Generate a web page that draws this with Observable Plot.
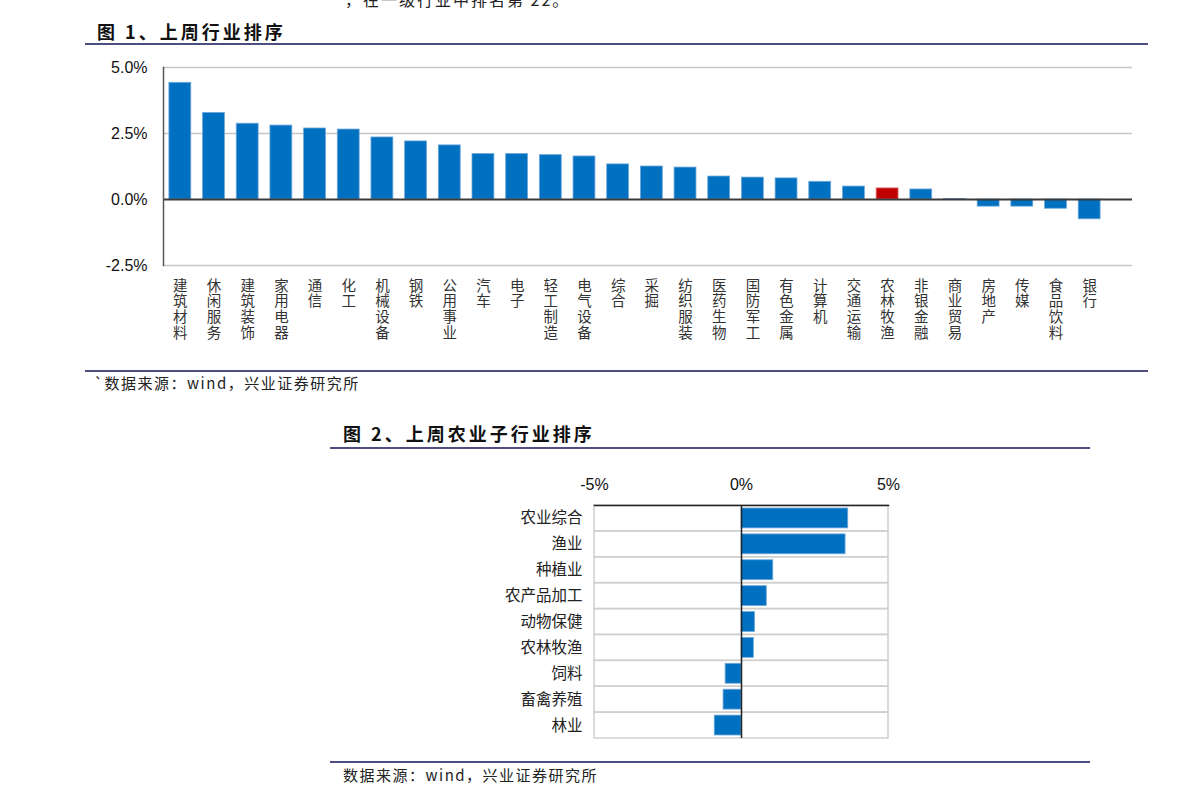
<!DOCTYPE html>
<html>
<head>
<meta charset="utf-8">
<script src="https://cdn.jsdelivr.net/npm/d3@7"></script>
<script src="https://cdn.jsdelivr.net/npm/@observablehq/plot@0.6"></script>
<style>
  html, body { margin: 0; padding: 0; background: #fff; }
  body { width: 1191px; height: 805px; position: relative; overflow: hidden;
         font-family: "Noto Sans CJK SC", "Noto Sans", sans-serif; }
  .abs { position: absolute; }
  .title { font-size: 18px; font-weight: 700; color: #111; letter-spacing: 3px; white-space: pre; }
  .rule { height: 2px; background: #4d4d80; }
  .src { font-size: 15px; color: #222; white-space: pre; letter-spacing: 1.5px; }
</style>
</head>
<body>
<div class="abs src" style="left:345px; top:-13px; font-size:16px; letter-spacing:2px;">，在一级行业中排名第 22。</div>

<div class="abs title" style="left:97px; top:18px;">图 1、上周行业排序</div>
<div class="abs rule" style="left:85px; top:43px; width:1063px;"></div>
<div id="chart1" class="abs" style="left:0; top:50px;"></div>
<div class="abs rule" style="left:85px; top:370px; width:1063px;"></div>
<div class="abs src" style="left:94px; top:372px;">`数据来源：wind，兴业证券研究所</div>

<div class="abs title" style="left:343px; top:420px;">图 2、上周农业子行业排序</div>
<div class="abs rule" style="left:330px; top:447px; width:760px;"></div>
<div id="chart2" class="abs" style="left:0; top:470px;"></div>
<div class="abs rule" style="left:330px; top:761px; width:760px;"></div>
<div class="abs src" style="left:343px; top:764px;">数据来源：wind，兴业证券研究所</div>

<script>
// ---------- Data ----------
const industries = ["建筑材料","休闲服务","建筑装饰","家用电器","通信","化工","机械设备","钢铁","公用事业","汽车","电子","轻工制造","电气设备","综合","采掘","纺织服装","医药生物","国防军工","有色金属","计算机","交通运输","农林牧渔","非银金融","商业贸易","房地产","传媒","食品饮料","银行"];
const industryReturns = [4.42, 3.28, 2.87, 2.80, 2.69, 2.65, 2.35, 2.20, 2.05, 1.72, 1.72, 1.68, 1.63, 1.33, 1.25, 1.21, 0.87, 0.83, 0.80, 0.67, 0.49, 0.42, 0.38, 0.02, -0.27, -0.27, -0.35, -0.75];
const highlight = "农林牧渔";
const yTicks1 = [5, 2.5, 0, -2.5];

const subIndustries = ["农业综合","渔业","种植业","农产品加工","动物保健","农林牧渔","饲料","畜禽养殖","林业"];
const subReturns = [3.63, 3.54, 1.08, 0.86, 0.46, 0.42, -0.54, -0.61, -0.91];
const xTicks2 = [-5, 0, 5];

const BLUE = "#0070C0", RED = "#C00000";
const cjk = "'Noto Sans CJK SC', sans-serif";
const latin = "'Liberation Sans', Arial, sans-serif";

// ---------- Chart 1 ----------
const data1 = industries.map((name, i) => ({name, value: industryReturns[i]}));
const chart1 = Plot.plot({
  width: 1191,
  height: 305,
  marginLeft: 163,
  marginRight: 85,
  marginTop: 17,
  marginBottom: 90,
  style: {fontFamily: latin, background: "transparent", overflow: "visible"},
  x: {domain: industries, paddingInner: 0.35, paddingOuter: 0.175, round: false, label: null},
  y: {domain: [-2.5, 5], label: null},
  marks: [
    Plot.ruleY(yTicks1.filter(d => d !== 0), {stroke: "#c6c6c6", strokeWidth: 1.5, insetRight: -26}),
    Plot.barY(data1, {
      x: "name", y: "value",
      fill: d => d.name === highlight ? RED : BLUE,
      stroke: d => d.name === highlight ? "#e07070" : "#6fa8dc",
      strokeWidth: 0.8
    }),
    Plot.ruleY([0], {stroke: "#3a3a3a", strokeWidth: 2, insetRight: -26}),
    Plot.frame({anchor: "left", stroke: "#555", strokeWidth: 1.5}),
    Plot.axisY({
      ticks: yTicks1, tickSize: 0, tickPadding: 16,
      tickFormat: d => d.toFixed(1) + "%",
      fontSize: 16, fill: "#111", label: null
    }),
    Plot.axisX({
      tickSize: 0, tickPadding: 14,
      tickFormat: d => d.split("").join("\n"),
      fontSize: 14.5, lineHeight: 1.08, fill: "#333",
      fontFamily: cjk, label: null
    })
  ]
});
document.getElementById("chart1").appendChild(chart1);

// ---------- Chart 2 ----------
const data2 = subIndustries.map((name, i) => ({name, value: subReturns[i]}));
const chart2 = Plot.plot({
  width: 1191,
  height: 278,
  marginLeft: 594,
  marginRight: 303,
  marginTop: 35,
  marginBottom: 10,
  style: {fontFamily: latin, background: "transparent", overflow: "visible"},
  x: {domain: [-5, 5], label: null},
  y: {domain: subIndustries, padding: 0, round: false, label: null},
  marks: [
    Plot.barX(subIndustries, {y: d => d, x1: -5, x2: 5, fill: "none", stroke: "#cfcfcf", strokeWidth: 1.5}),
    Plot.barX(data2, {
      y: "name", x: "value", fill: BLUE, stroke: "#6fa8dc", strokeWidth: 0.8,
      insetTop: 3, insetBottom: 3
    }),
    Plot.ruleX([0], {stroke: "#222", strokeWidth: 1.5}),
    Plot.frame({anchor: "top", stroke: "#222", strokeWidth: 1.5}),
    Plot.axisX({
      anchor: "top", ticks: xTicks2, tickSize: 0, tickPadding: 16,
      tickFormat: d => d + "%", fontSize: 16, fill: "#111", label: null
    }),
    Plot.axisY({
      tickSize: 0, tickPadding: 12, fontSize: 15.5, fill: "#222",
      fontFamily: cjk, label: null
    })
  ]
});
document.getElementById("chart2").appendChild(chart2);
</script>
</body>
</html>
